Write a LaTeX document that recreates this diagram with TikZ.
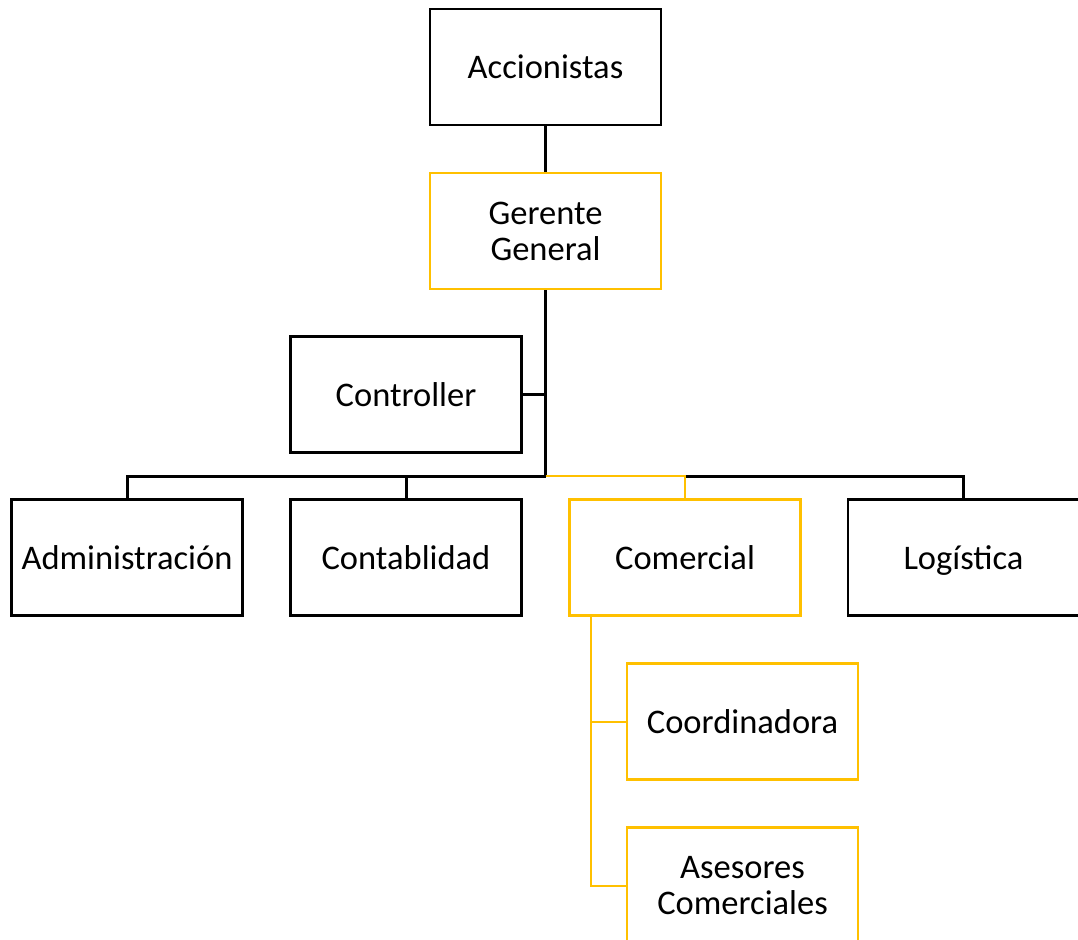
\documentclass[tikz,border=0pt]{standalone}
\usepackage{fontspec}
\setmainfont{Carlito}
\definecolor{gold}{HTML}{FFC000}
\begin{document}
\begin{tikzpicture}[
  x=1pt,y=1pt,
  bbox/.style={draw=black,line width=2.4pt,minimum width=231pt,minimum height=116pt,inner sep=0pt,align=center,font=\fontsize{34.5}{36}\selectfont},
  obox/.style={bbox,draw=gold},
  one/.style={text height=27pt,text depth=4pt},
  blk/.style={draw=black,line width=3pt},
  org/.style={draw=gold,line width=2pt}
]
\useasboundingbox (0,0) rectangle (1078,-939);
\node[bbox,one] (acc) at (545.5,-67) {Accionistas};
\node[obox] (gg) at (545.5,-231) {Gerente\\General};
\node[bbox,one] (ctrl) at (406,-394.5) {Controller};
\node[bbox,one] (adm) at (127,-557.5) {Administración};
\node[bbox,one] (cont) at (406,-557.5) {Contablidad};
\node[obox,one] (com) at (685,-557.5) {Comercial};
\node[bbox,one] (log) at (963.5,-557.5) {Logística};
\node[obox,one] (coord) at (742.5,-721.5) {Coordinadora};
\node[obox] (ases) at (742.5,-885.5) {Asesores\\Comerciales};
\coordinate (hub) at (545.5,-476);
\coordinate (ct) at ([xshift=23pt]com.south west);
\draw[blk] (acc.south) -- (gg.north);
\draw[blk] (gg.south) -- (hub);
\draw[blk] (ctrl.east) -- (ctrl.east -| hub);
\draw[blk] (hub) -| (adm.north);
\draw[blk] (hub) -| (cont.north);
\draw[blk] (com.north |- hub) -| (log.north);
\draw[org] (hub) -| (com.north);
\draw[org] (ct) |- (coord.west);
\draw[org] (ct) |- (ases.west);
\end{tikzpicture}
\end{document}
